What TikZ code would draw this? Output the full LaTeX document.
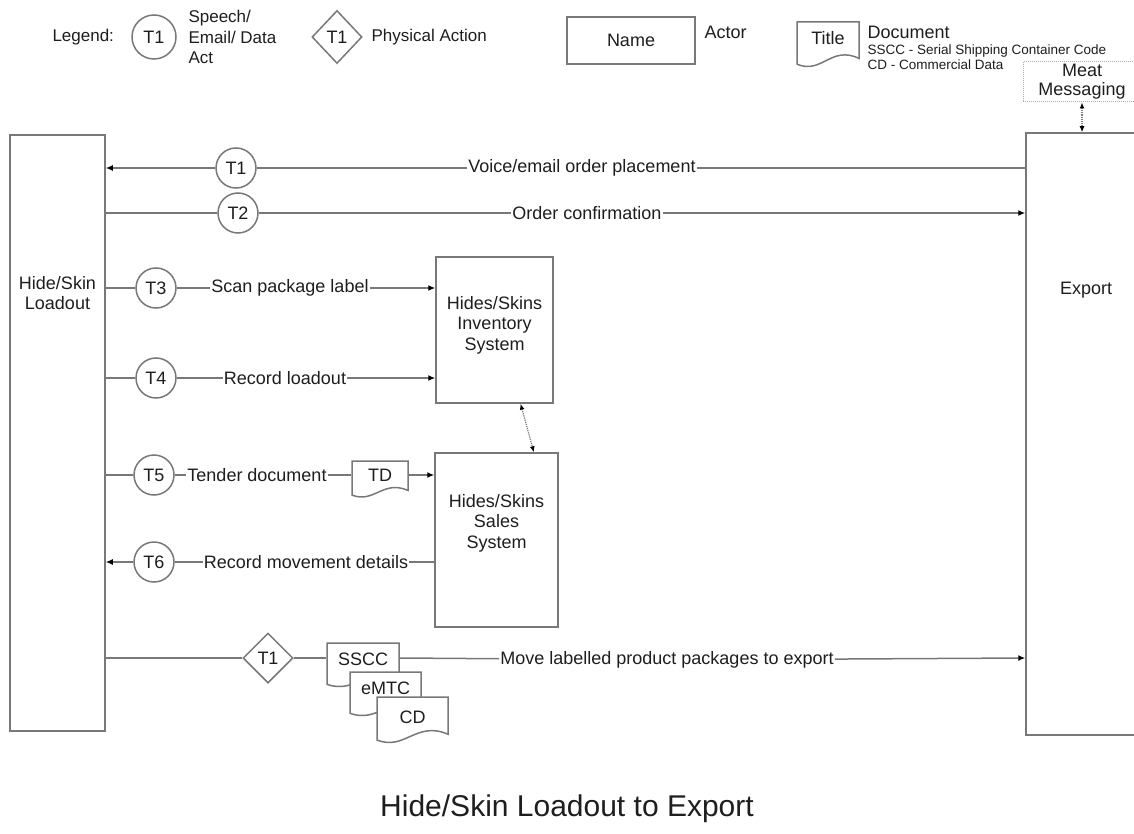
\documentclass[tikz,border=0pt]{standalone}
\usepackage{fontspec}
\setmainfont{Liberation Sans}
\usetikzlibrary{shapes.geometric,arrows.meta,calc}
\definecolor{linec}{RGB}{120,120,120}
\definecolor{txtc}{RGB}{30,30,30}
\begin{document}
\begin{tikzpicture}[x=1pt,y=-1pt,
  every node/.style={text=txtc},
  font=\fontsize{18}{20.5}\selectfont,
  actor/.style={draw=linec, line width=1.5pt, fill=white, align=center, inner sep=0pt},
  act/.style={circle, draw=linec, line width=1.5pt, fill=white, minimum size=40pt, inner sep=0pt},
  phys/.style={diamond, draw=linec, line width=1.5pt, fill=white, minimum width=50pt, minimum height=50pt, inner sep=0pt},
  lbl/.style={fill=white, inner sep=1pt},
  doc/.style={inner sep=0pt, text depth=#1, path picture={
    \path[fill=white, draw=linec, line width=1.5pt]
     let \p1=(path picture bounding box.north west), \p2=(path picture bounding box.south east),
         \n1={\x2-\x1}, \n2={\y1-\y2} in
     ({\x1+1pt},{\y1-1pt}) -- ({\x2-1pt},{\y1-1pt}) -- ({\x2-1pt},{\y2+0.22*\n2})
     .. controls ({\x1+0.55*\n1},{\y2+0.5*\n2}) and ({\x1+0.4*\n1},{\y2-0.12*\n2}) .. ({\x1+1pt},{\y2+0.1*\n2}) -- cycle;
  }},
  flow/.style={draw=linec, line width=1.5pt},
  arr/.style={flow, -{Latex[length=7pt,width=6pt,color=black]}},
  dotarr/.style={draw=linec, line width=1.2pt, densely dotted, {Latex[length=6pt,width=5pt,color=black]}-{Latex[length=6pt,width=5pt,color=black]}},
  small/.style={font=\fontsize{17}{20.5}\selectfont}
]
\fill[white] (0,0) rectangle (1134,834);
\useasboundingbox (0,0) rectangle (1134,834);

% legend
\node[small, anchor=west] (legend) at (49,37) {Legend:};
\node[act, minimum size=44pt] (lgact) at (154,37) {T1};
\node[small, anchor=west, align=left] (lgacttxt) at (185,37) {Speech/\\Email/ Data\\Act};
\node[phys, minimum width=50pt, minimum height=53pt] (lgphys) at (337,37) {T1};
\node[small, anchor=west] (lgphystxt) at (368,37) {Physical Action};
\node[actor, minimum width=128pt, minimum height=47pt] (lgactor) at (631,40.5) {Name};
\node[anchor=west] (lgactortxt) at (701,32) {Actor};
\node[doc=14pt, minimum width=64pt, minimum height=48pt] (lgdoc) at (828,45) {Title};
\node[anchor=west] (lgdoctxt) at (864,32) {Document};
\node[anchor=west, align=left, font=\fontsize{13.5}{14.5}\selectfont] (lgabbr) at (864,57) {SSCC - Serial Shipping Container Code\\CD - Commercial Data};
\node[draw=linec!60, densely dotted, line width=1pt, minimum width=118pt, minimum height=40pt, align=center, inner sep=0pt, font=\fontsize{18}{19}\selectfont] (meat) at (1082,82) {Meat\\Messaging};

% actors
\node[actor, minimum width=95pt, minimum height=596pt, text depth=280pt] (load) at (57.5,433) {Hide/Skin\\Loadout};
\node[actor, minimum width=120pt, minimum height=602pt, text depth=292pt] (export) at (1086,434) {Export};
\node[actor, minimum width=117pt, minimum height=146pt, text depth=14pt] (inv) at (494.5,330) {Hides/Skins\\Inventory\\System};
\node[actor, minimum width=123pt, minimum height=174pt, text depth=38pt] (sales) at (496.5,540) {Hides/Skins\\Sales\\System};

% acts
\node[act] (t1) at (236,168) {T1};
\node[act] (t2) at (238,213) {T2};
\node[act] (t3) at (156,288) {T3};
\node[act] (t4) at (156,378) {T4};
\node[act] (t5) at (154,475) {T5};
\node[act] (t6) at (154,562) {T6};
\node[phys] (p1) at (268,658) {T1};

% labels
\node[lbl] (l1) at (582,168) {Voice/email order placement};
\node[lbl] (l2) at (587,213) {Order confirmation};
\node[lbl] (l3) at (290,288) {Scan package label};
\node[lbl] (l4) at (285,378) {Record loadout};
\node[lbl] (l5) at (257,475) {Tender document};
\node[lbl] (l6) at (306,562) {Record movement details};
\node[lbl] (l7) at (667,660) {Move labelled product packages to export};

% documents
\node[doc=9pt, minimum width=58pt, minimum height=39pt] (td) at (380,479.5) {TD};
\node[doc=13pt, minimum width=74pt, minimum height=47pt] (sscc) at (363,665.5) {SSCC};
\node[doc=13pt, minimum width=73pt, minimum height=47pt] (emtc) at (385.5,694.5) {eMTC};
\node[doc=7pt, minimum width=73pt, minimum height=49pt] (cd) at (412.5,720.5) {CD};

% title
\node[font=\fontsize{30}{34}\selectfont] (title) at (567,809) {Hide/Skin Loadout to Export};

% connectors
\draw[arr] (export.west |- t1) -- (l1) -- (t1) -- (load.east |- t1);
\draw[arr] (load.east |- t2) -- (t2) -- (l2) -- (export.west |- t2);
\draw[arr] (load.east |- t3) -- (t3) -- (l3) -- (inv.west |- t3);
\draw[arr] (load.east |- t4) -- (t4) -- (l4) -- (inv.west |- t4);
\draw[flow] (load.east |- t5) -- (t5) -- (l5) -- (td.west |- t5);
\draw[arr] (td.east |- t5) -- (sales.west |- t5);
\draw[arr] (sales.west |- t6) -- (l6) -- (t6) -- (load.east |- t6);
\draw[flow] (load.east |- p1) -- (p1) -- (sscc.west |- p1);
\draw[arr] (sscc.east |- p1) -- (l7) -- (export.west |- p1);
\draw[dotarr] (meat.south) -- (meat.south |- export.north);
\draw[dotarr] ($(inv.south west)!0.72!(inv.south east)$) -- ($(sales.north west)!0.8!(sales.north east)$);
\end{tikzpicture}
\end{document}
